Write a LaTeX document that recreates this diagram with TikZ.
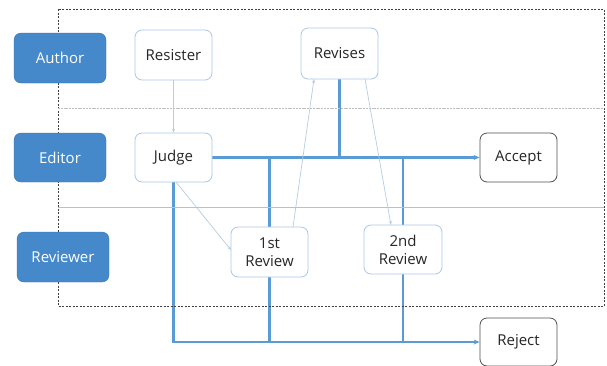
\documentclass[tikz,border=0pt]{standalone}
\usepackage{fontspec}
\setmainfont{Open Sans}
\usetikzlibrary{arrows.meta,backgrounds}
\definecolor{rolefill}{HTML}{4589CB}
\definecolor{flow}{HTML}{5B9BD5}
\definecolor{lightb}{HTML}{A9C8E8}
\definecolor{thinb}{HTML}{B5CCE3}
\definecolor{darkb}{HTML}{505050}
\tikzset{
  rolebox/.style={draw=rolefill!85!black, fill=rolefill, rounded corners=7pt, minimum width=92pt, minimum height=50pt, text=white, font=\fontsize{15}{18}\selectfont, inner sep=0pt},
  stepbox/.style={draw=lightb, line width=0.8pt, fill=white, rounded corners=7pt, minimum width=77pt, minimum height=50pt, font=\fontsize{15}{18}\selectfont, align=center, inner sep=0pt, text=black!85},
  endbox/.style={stepbox, draw=darkb},
  flowline/.style={draw=flow, line width=2.2pt},
  thinarrow/.style={draw=thinb, line width=0.7pt, -{Stealth[length=4pt,width=3pt]}},
  flowarrow/.style={flowline, -{Stealth[length=6pt,width=5pt]}}
}
\begin{document}
\begin{tikzpicture}[x=1pt,y=-1pt]
\useasboundingbox (0,0) rectangle (607,365);
% outer dashed frame and lane separators
\draw[black!75, line width=0.9pt, dash pattern=on 2pt off 1.5pt] (58,9) rectangle (604,306);
\draw[black!25, line width=0.9pt, dash pattern=on 2pt off 0.8pt] (58,108) -- (604,108);
\draw[black!25, line width=0.9pt] (58,207) -- (604,207);
% roles
\node[rolebox] (author) at (60,58) {Author};
\node[rolebox, minimum height=49pt] (editor) at (60,157.5) {Editor};
\node[rolebox] (reviewer) at (63,257) {Reviewer};
% steps
\node[stepbox] (resister) at (173.5,55) {Resister};
\node[stepbox, minimum height=49pt] (judge) at (173.5,157.5) {Judge};
\node[stepbox, minimum height=51pt] (revises) at (339.5,53.5) {Revises};
\node[endbox, minimum height=49pt] (accept) at (518.5,157.5) {Accept};
\node[stepbox] (r1) at (269.5,252) {1st\\Review};
\node[stepbox, minimum width=78pt, minimum height=49pt] (r2) at (403,249.5) {2nd\\Review};
\node[endbox, minimum height=48pt] (reject) at (518.5,342) {Reject};
\coordinate (jd) at (176,182);
\coordinate (r1w) at (231,250);
\coordinate (r1t) at (293,227);
\coordinate (rvb1) at (314,79);
\coordinate (rvb2) at (365,79);
\coordinate (r2t) at (391,225);
\begin{pgfonlayer}{background}
\draw[flowarrow] (judge.east) -- (accept.west);
\draw[flowline] (revises.south) -- (revises.south |- judge.east);
\draw[flowarrow] (judge.south) -- (judge.south |- reject.west) -- (reject.west);
\draw[flowline] (r1.center |- judge.east) -- (r1.center |- reject.west);
\draw[flowline] (r2.center |- judge.east) -- (r2.center |- reject.west);
\end{pgfonlayer}
\draw[thinarrow] (resister.south) -- (judge.north);
\draw[thinarrow] (jd) -- (r1w);
\draw[thinarrow] (r1t) -- (rvb1);
\draw[thinarrow] (rvb2) -- (r2t);
\end{tikzpicture}
\end{document}
